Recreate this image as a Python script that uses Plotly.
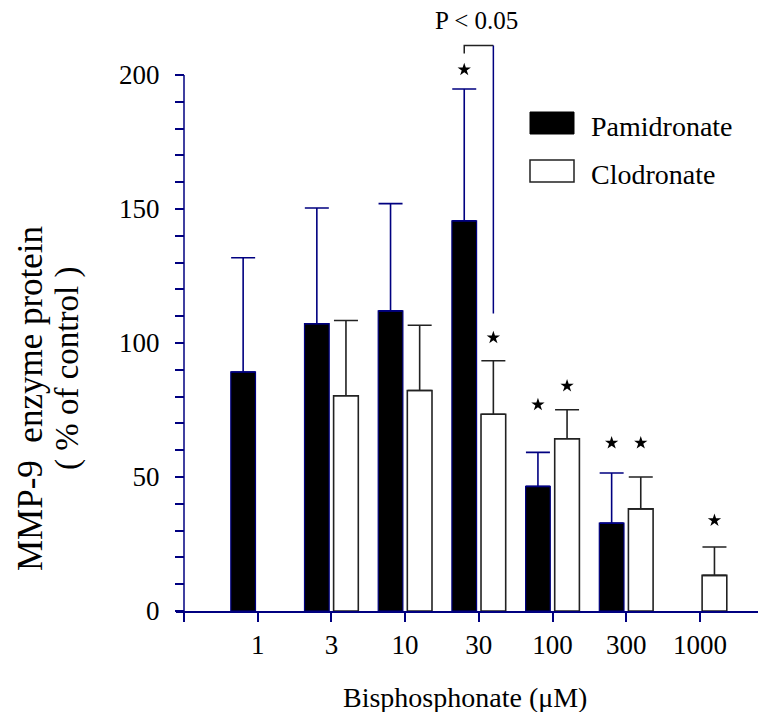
import plotly.graph_objects as go

# ---- data ----
categories = ["1", "3", "10", "30", "100", "300", "1000"]
pam_values = [89.2, 107.2, 112.0, 145.6, 46.5, 32.8, None]
pam_errors = [42.6, 43.2, 40.0, 49.2, 12.7, 18.7, None]
clo_values = [None, 80.3, 82.3, 73.4, 64.3, 38.1, 13.3]
clo_errors = [None, 28.1, 24.3, 20.0, 10.8, 11.9, 10.6]
# significance stars (y position of the star) per category, None = no star
pam_stars = [None, None, None, 202, 77, 62.7, None]
clo_stars = [None, None, None, 102, 84, 62.7, 33.8]
y_tick_vals = list(range(0, 201, 10))
y_tick_text = [str(v) if v % 50 == 0 else "" for v in y_tick_vals]

NAVY = "#000080"
DARK = "#222222"
FONT = "Liberation Serif, Times New Roman, serif"

# page body has an 8px margin: figure is drawn inside it
BODY = 8
W, H = 766 - BODY, 712 - BODY
# reference-frame geometry (pixels of the 766x712 picture)
PLOT_L, PLOT_R, PLOT_T, PLOT_B = 176, 766, 10, 611
ML, MR, MT, MB = PLOT_L - BODY, 766 - PLOT_R, PLOT_T - BODY, 712 - PLOT_B
PX_PER_Y = 2.68
PX_PER_X = 73.7
x_min = -(184 - PLOT_L) / PX_PER_X
x_max = x_min + (PLOT_R - PLOT_L) / PX_PER_X
y_max = (PLOT_B - PLOT_T) / PX_PER_Y

xpos = list(range(1, len(categories) + 1))
BW = 0.335
OFF = 0.03


def px2paper_x(px):
    return (px - PLOT_L) / (PLOT_R - PLOT_L)


def px2paper_y(py):
    return (PLOT_B - py) / (PLOT_B - PLOT_T)


fig = go.Figure()

fig.add_trace(go.Bar(
    x=xpos, y=pam_values, name="Pamidronate", width=BW, offset=-BW - OFF,
    marker=dict(color="black", line=dict(color=NAVY, width=1.2)),
    error_y=dict(type="data", array=[e if e is not None else 0 for e in pam_errors],
                 arrayminus=[0] * len(xpos), symmetric=False,
                 color=NAVY, thickness=1.6, width=12),
    showlegend=False,
))
fig.add_trace(go.Bar(
    x=xpos, y=clo_values, name="Clodronate", width=BW, offset=OFF,
    marker=dict(color="white", line=dict(color=DARK, width=1.6)),
    error_y=dict(type="data", array=[e if e is not None else 0 for e in clo_errors],
                 arrayminus=[0] * len(xpos), symmetric=False,
                 color=DARK, thickness=1.6, width=12),
    showlegend=False,
))

# stars
cen = BW / 2 + OFF
sx, sy = [], []
for i, v in enumerate(pam_stars):
    if v is not None:
        sx.append(xpos[i] - cen); sy.append(v)
for i, v in enumerate(clo_stars):
    if v is not None:
        sx.append(xpos[i] + cen); sy.append(v)
fig.add_trace(go.Scatter(x=sx, y=sy, mode="markers", cliponaxis=False,
                         marker=dict(symbol="star", size=10, color="black"),
                         showlegend=False, hoverinfo="skip"))

# significance bracket between Pamidronate 30 and Clodronate 30
i30 = categories.index("30")
xa, xb = xpos[i30] - cen, xpos[i30] + cen
fig.add_trace(go.Scatter(x=[xa, xa, xb], y=[208, 211, 211], mode="lines",
                         line=dict(color=DARK, width=1.5), showlegend=False, hoverinfo="skip"))
fig.add_trace(go.Scatter(x=[xb, xb], y=[211, 111], mode="lines",
                         line=dict(color=NAVY, width=1.5), showlegend=False, hoverinfo="skip"))

# y axis line (0..200)
fig.add_shape(type="line", xref="x", yref="y", x0=0, x1=0, y0=0, y1=200,
              line=dict(color=NAVY, width=1.5))

# legend (drawn manually)
fig.add_shape(type="rect", xref="paper", yref="paper",
              x0=px2paper_x(530), x1=px2paper_x(574), y0=px2paper_y(134), y1=px2paper_y(112),
              fillcolor="black", line=dict(color="black", width=1))
fig.add_shape(type="rect", xref="paper", yref="paper",
              x0=px2paper_x(530), x1=px2paper_x(574), y0=px2paper_y(182), y1=px2paper_y(160),
              fillcolor="white", line=dict(color=DARK, width=1.5))

annots = [
    dict(text="Pamidronate", x=px2paper_x(589), y=px2paper_y(126), xanchor="left", yanchor="middle", size=28),
    dict(text="Clodronate", x=px2paper_x(589), y=px2paper_y(174), xanchor="left", yanchor="middle", size=28),
    dict(text="P < 0.05", x=px2paper_x(477), y=px2paper_y(21), xanchor="center", yanchor="middle", size=25),
    dict(text="Bisphosphonate (μM)", x=px2paper_x(465), y=px2paper_y(697), xanchor="center", yanchor="middle", size=28),
    dict(text="MMP-9  enzyme protein", x=px2paper_x(30), y=px2paper_y(399), xanchor="center", yanchor="middle", size=35, textangle=-90),
    dict(text="( % of control )", x=px2paper_x(67), y=px2paper_y(369), xanchor="center", yanchor="middle", size=33, textangle=-90),
]
for a in annots:
    fig.add_annotation(text=a["text"], x=a["x"], y=a["y"], xref="paper", yref="paper",
                       xanchor=a["xanchor"], yanchor=a["yanchor"], showarrow=False,
                       textangle=a.get("textangle", 0),
                       font=dict(family=FONT, size=a["size"], color="black"))

fig.update_layout(
    width=W, height=H,
    margin=dict(l=ML, r=MR, t=MT, b=MB, pad=0),
    paper_bgcolor="white", plot_bgcolor="white",
    barmode="overlay",
    font=dict(family=FONT, color="black"),
    xaxis=dict(range=[x_min, x_max], tickmode="array",
               tickvals=[0] + xpos, ticktext=[""] + categories,
               ticks="outside", ticklen=9, tickwidth=1.5, tickcolor=NAVY,
               showline=True, linecolor=NAVY, linewidth=1.5,
               showgrid=False, zeroline=False,
               tickfont=dict(family=FONT, size=27, color="black")),
    yaxis=dict(range=[0, y_max], tickmode="array",
               tickvals=y_tick_vals, ticktext=y_tick_text,
               anchor="free", position=px2paper_x(184),
               ticks="outside", ticklen=9, tickwidth=1.5, tickcolor=NAVY,
               ticklabelstandoff=10,
               showline=False, showgrid=False, zeroline=False,
               tickfont=dict(family=FONT, size=27, color="black")),
)

fig.write_html("out.html")
